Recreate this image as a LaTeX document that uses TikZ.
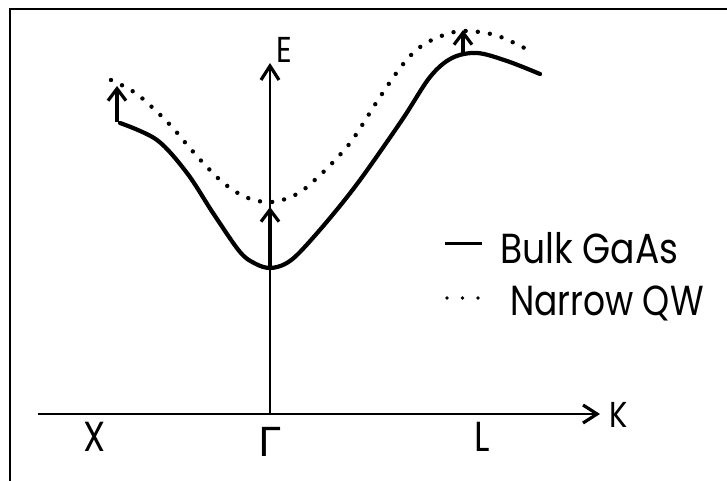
\documentclass[tikz,border=0pt]{standalone}
\usepackage{fontspec}
\setmainfont{Poppins}
\newfontfamily\greekfont{DejaVu Sans}
\usetikzlibrary{arrows.meta}
\begin{document}
\begin{tikzpicture}[x=1pt,y=-1pt,
  frameline/.style={line width=2.8pt},
  axisline/.style={line width=1.6pt,-{Straight Barb[length=14pt,width=18pt,line width=3.2pt]}},
  shiftarrow/.style={line width=3.4pt,-{Straight Barb[length=12pt,width=18pt,line width=3.2pt]}},
  bulk/.style={line width=4.2pt,line cap=round,line join=round},
  qw/.style={line width=4.4pt,line cap=round,dash pattern=on 0pt off 12.2pt},
  lbl/.style={inner sep=0pt,font=\fontsize{42}{42}\selectfont},
  small/.style={inner sep=0pt,font=\fontsize{36}{36}\selectfont}]
\useasboundingbox (0,0) rectangle (727,481);
% frame (top and left edges only)
\draw[frameline] (10,481) -- (10,9) -- (727,9);
% axes
\coordinate (o) at (270,414);
\coordinate (kx0) at (38,414);
\coordinate (ktip) at (600,414);
\coordinate (etip) at (270,63);
\draw[axisline] (kx0) -- (ktip);
\draw[axisline] (o) -- (etip);
\node[small,anchor=west] (K) at (609,415) {\scalebox{0.85}[1]{K}};
\node[small,anchor=west] (E) at (276,50) {\scalebox{0.85}[1]{E}};
\node[lbl] (X) at (95,437) {\scalebox{0.85}[1]{X}};
\node[lbl] (G) at (270,442) {\greekfont\fontsize{40}{40}\selectfont Γ};
\node[lbl] (L) at (482,437) {\scalebox{0.85}[1]{L}};
% bulk GaAs curve
\draw[bulk] plot[smooth,tension=0.55] coordinates {(120,123) (157,140) (187,173) (213,213) (240,252) (256,264) (270,268) (285,264) (300,252) (330,218) (360,180) (402,120) (430,77) (452,58) (477,53) (507,61) (540,74)};
% narrow QW curve
\draw[qw] plot[smooth,tension=0.6] coordinates {(111,80) (134,92) (154,109) (172,127) (189,147) (207,167) (226,185) (248,198) (272,202) (297,194) (317,178) (336,159) (353,139) (380,97) (404,63) (423,45) (447,34) (467,31) (498,36) (534,53)};
% shift arrows
\coordinate (xa) at (117,122);
\coordinate (xb) at (117,86);
\coordinate (ga) at (270,266);
\coordinate (gb) at (270,207);
\coordinate (la) at (463,54);
\coordinate (lb) at (463,30);
\draw[shiftarrow] (xa) -- (xb);
\draw[shiftarrow] (ga) -- (gb);
\draw[shiftarrow] (la) -- (lb);
% legend
\coordinate (l1a) at (445,243);
\coordinate (l1b) at (482,243);
\draw[line width=3pt] (l1a) -- (l1b);
\coordinate (l2a) at (447,298);
\coordinate (l2b) at (480,298);
\draw[line width=3.6pt,line cap=round,dash pattern=on 0pt off 15.5pt] (l2a) -- (l2b);
\node[lbl,anchor=base west] (bulk) at (500,263) {\scalebox{0.86}[1]{Bulk GaAs}};
\node[lbl,anchor=base west] (narrow) at (510,315) {\scalebox{0.82}[1]{Narrow QW}};
\end{tikzpicture}
\end{document}
